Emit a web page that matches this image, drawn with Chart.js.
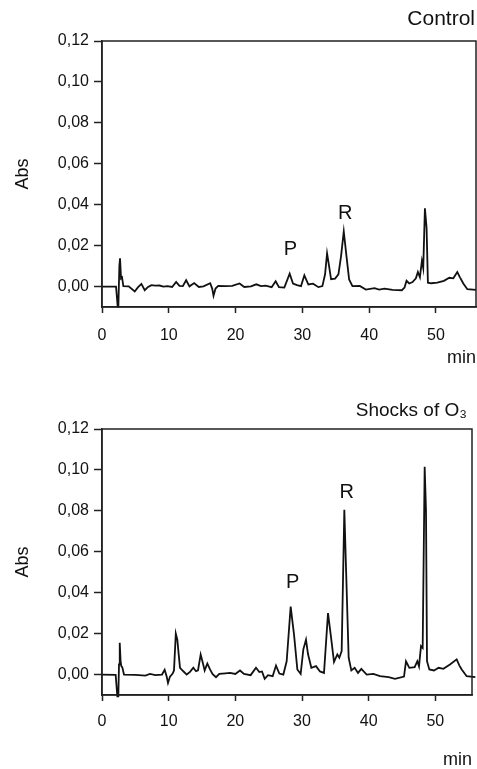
<!DOCTYPE html>
<html>
<head>
    <title>Chromatograms</title>
    <script src="https://cdn.jsdelivr.net/npm/chart.js"></script>
    <style>
        body { margin: 0; background: #fff; }
        canvas { position: absolute; left: 0; }
        #ctrlChart { top: 0; }
        #ozoneChart { top: 385px; }
    </style>
</head>
<body>
    <canvas id="ctrlChart" width="477" height="385"></canvas>
    <canvas id="ozoneChart" width="477" height="384"></canvas>

    <script>
    // axis ticks
    const xTicks = [0, 10, 20, 30, 40, 50];
    const yTicks = [0, 0.02, 0.04, 0.06, 0.08, 0.10, 0.12];

    // Control run (min, Abs)
    const ctrlTime = [0, 2.1, 2.35, 2.45, 2.6, 2.7, 2.85, 3.0, 3.2, 4.0, 4.9, 5.4, 5.9, 6.4, 6.9, 7.4, 8.0, 8.6, 9.2, 9.8,
        10.5, 11.1, 11.6, 12.1, 12.6, 13.1, 13.8, 14.5, 15.2, 16.2, 16.5, 16.7, 17.0, 17.4, 18.5, 19.5, 20.6, 21.3, 22.3, 23.1,
        23.8, 24.5, 25.4, 26.0, 26.5, 27.3, 28.1, 28.6, 29.2, 29.8, 30.3, 30.9, 31.6, 32.4, 33.0, 33.4, 33.7, 34.0, 34.3, 34.9,
        35.4, 35.8, 36.2, 36.6, 37.0, 37.5, 38.6, 39.5, 40.8, 41.5, 42.3, 43.5, 44.9, 45.3, 45.6, 46.0, 46.5, 47.0, 47.3, 47.6,
        47.9, 48.1, 48.35, 48.6, 48.8, 49.3, 50.2, 51.2, 52.0, 52.6, 53.2, 53.6, 54.1, 54.7, 56];
    const ctrlAbs = [0, 0, -0.0098, -0.0098, 0.010, 0.0138, 0.004, 0.0045, 0.0002, 0.0001, -0.0024, -0.0003, 0.0013, -0.0018, -0.0002, 0.0007, 0.0004, 0.0005, 0, 0.0002,
        -0.0002, 0.0023, 0.0003, 0.0002, 0.0031, 0.0001, 0.0017, -0.0002, 0.0001, 0.0016, -0.001, -0.0045, -0.001, 0.0003, 0.0002, 0.0003, 0.0015, -0.0002, 0.0001, 0.0011,
        0.0002, 0.0004, -0.0003, 0.0026, -0.0003, -0.0005, 0.0063, 0.0015, 0.0007, 0.0002, 0.0055, 0.001, 0.0014, -0.0003, 0.0002, 0.006, 0.0162, 0.010, 0.0036, 0.0039,
        0.006, 0.015, 0.0269, 0.015, 0.0035, 0.0002, 0.0003, -0.0015, -0.0008, -0.0015, -0.001, -0.0016, -0.0018, -0.0005, 0.0028, 0.0015, 0.0022, 0.004, 0.0071, 0.0045,
        0.0125, 0.009, 0.0382, 0.0286, 0.0019, 0.0016, 0.0019, 0.0028, 0.0043, 0.0040, 0.0071, 0.0045, 0.0015, -0.0013, -0.0016];
    const ctrlPeakNames = ['P', 'R'];
    const ctrlPeakX = [28.2, 36.4];
    const ctrlPeakY = [0.018, 0.0355];

    // Shocks of O3 run (min, Abs)
    const ozoneTime = [0, 2.05, 2.3, 2.45, 2.55, 2.66, 2.8, 2.9, 3.05, 3.3, 5.0, 6.5, 7.2, 8.0, 9.0, 9.4, 9.7, 9.9, 10.2, 10.6,
        10.8, 11.07, 11.3, 11.5, 11.7, 12.2, 12.7, 13.2, 13.7, 14.1, 14.4, 14.8, 15.1, 15.4, 15.8, 16.2, 16.6, 17.1, 17.6, 18.5,
        19.2, 20.0, 20.7, 21.3, 22.3, 23.1, 23.6, 24.0, 24.4, 24.9, 25.6, 26.1, 26.6, 27.2, 27.7, 28.3, 28.8, 29.3, 29.8, 30.2,
        30.6, 30.9, 31.4, 32.1, 32.7, 33.3, 33.9, 34.3, 34.8, 35.3, 35.6, 35.95, 36.35, 36.6, 37.0, 37.4, 37.9, 38.4, 38.9, 39.7,
        40.7, 41.7, 43.0, 43.95, 45.3, 45.6, 46.1, 46.9, 47.3, 47.55, 47.85, 48.1, 48.4, 48.6, 48.75, 49.1, 49.8, 50.5, 51.2, 52.2,
        53.2, 53.6, 53.96, 54.7, 56];
    const ozoneAbs = [0, -0.0002, -0.0106, -0.0106, 0.005, 0.0155, 0.006, 0.0041, 0.0035, 0, -0.0002, -0.0005, 0.0003, -0.0003, 0, 0.0023, -0.001, -0.0041, -0.001, 0.0005,
        0.002, 0.020, 0.017, 0.010, 0.0033, 0.0016, 0, 0.0013, 0.0033, 0.0016, 0.002, 0.0098, 0.006, 0.002, 0.0054, 0.0025, 0.0002, -0.0013, 0.0003, 0.0006,
        0.0008, 0.0003, 0.0020, 0.0003, -0.0003, 0.0033, 0.0012, 0.0015, -0.0021, -0.0003, -0.0008, 0.0044, 0.0005, 0, 0.0065, 0.0332, 0.0196, 0.0025, 0.0003, 0.0123,
        0.017, 0.010, 0.0033, 0.0041, 0.0015, 0.0008, 0.030, 0.0196, 0.0062, 0.0098, 0.0082, 0.0115, 0.0805, 0.0524, 0.0082, 0.002, 0.0033, 0.0008, 0.0028, 0,
        0.0003, -0.0008, -0.0013, -0.0021, -0.001, 0.0065, 0.0033, 0.0036, 0.0065, 0.004, 0.0139, 0.013, 0.1015, 0.080, 0.0065, 0.0025, 0.002, 0.0033, 0.0028, 0.0049,
        0.0074, 0.0045, 0.0025, -0.0008, -0.0013];
    const ozonePeakNames = ['P', 'R'];
    const ozonePeakX = [28.6, 36.7];
    const ozonePeakY = [0.045, 0.0892];

    const axisColor = '#222';
    const FONT = 'Liberation Sans, Arial, sans-serif';

    // box round the plot area, corner title and peak letters
    const framePlugin = {
        id: 'frame',
        afterDraw(chart, args, opts) {
            const c = chart.ctx, a = chart.chartArea;
            const xs = chart.scales.x, ys = chart.scales.y;
            c.save();
            c.strokeStyle = axisColor;
            c.lineWidth = 1.5;
            c.strokeRect(a.left, a.top, a.right - a.left, a.bottom - a.top);
            c.fillStyle = '#111';
            c.font = opts.font;
            c.textAlign = 'right';
            c.textBaseline = 'alphabetic';
            c.fillText(opts.title, a.right - opts.inset, opts.baseline);
            c.font = '20px ' + FONT;
            c.textAlign = 'center';
            c.textBaseline = 'middle';
            opts.peaks.forEach((p, i) => {
                c.fillText(p, xs.getPixelForValue(opts.peakX[i]), ys.getPixelForValue(opts.peakY[i]));
            });
            c.restore();
        }
    };

    function makeChart(id, times, values, cfg) {
        const ctx = document.getElementById(id).getContext('2d');
        return new Chart(ctx, {
            type: 'line',
            data: {
                datasets: [{
                    data: times.map((t, i) => ({ x: t, y: values[i] })),
                    borderColor: '#111',
                    borderWidth: 1.8,
                    pointRadius: 0,
                    tension: 0,
                    fill: false,
                    clip: 6
                }]
            },
            options: {
                responsive: false,
                animation: false,
                layout: { padding: { top: cfg.top, right: cfg.right, left: 0, bottom: 0 } },
                plugins: {
                    legend: { display: false },
                    tooltip: { enabled: false },
                    frame: {
                        title: cfg.title, font: cfg.titleFont, baseline: cfg.titleBaseline, inset: cfg.titleInset,
                        peaks: cfg.peaks, peakX: cfg.peakX, peakY: cfg.peakY
                    }
                },
                scales: {
                    x: {
                        type: 'linear',
                        min: 0,
                        max: cfg.xmax,
                        afterFit: s => { s.height = cfg.xHeight; },
                        afterBuildTicks: s => { s.ticks = xTicks.map(v => ({ value: v })); },
                        grid: { drawOnChartArea: false, tickLength: 6, color: axisColor, tickWidth: 1.5 },
                        border: { color: axisColor, width: 1.5 },
                        ticks: { color: '#111', font: { family: FONT, size: 16 }, padding: cfg.xTickPad, maxRotation: 0 },
                        title: {
                            display: true, text: 'min', align: 'end', color: '#111',
                            font: { family: FONT, size: 18 }, padding: { top: 0, bottom: cfg.minPad }
                        }
                    },
                    y: {
                        min: -0.01,
                        max: 0.12,
                        afterFit: s => { s.width = 102; },
                        afterBuildTicks: s => { s.ticks = yTicks.map(v => ({ value: v })); },
                        grid: { drawOnChartArea: false, tickLength: 8, color: axisColor, tickWidth: 1.5 },
                        border: { color: axisColor, width: 1.5 },
                        ticks: {
                            color: '#111', font: { family: FONT, size: 16 }, padding: 5,
                            callback: v => v.toFixed(2).replace('.', ',')
                        },
                        title: {
                            display: true, text: 'Abs', color: '#111',
                            font: { family: FONT, size: 18 }, padding: { top: 12, bottom: 0 }
                        }
                    }
                }
            },
            plugins: [framePlugin]
        });
    }

    makeChart('ctrlChart', ctrlTime, ctrlAbs, {
        top: 41, right: 1, xmax: 56, xHeight: 78, minPad: 16, xTickPad: 13,
        title: 'Control', titleFont: '21px ' + FONT, titleBaseline: 25, titleInset: 1,
        peaks: ctrlPeakNames, peakX: ctrlPeakX, peakY: ctrlPeakY
    });
    makeChart('ozoneChart', ozoneTime, ozoneAbs, {
        top: 44, right: 5, xmax: 55.5, xHeight: 74, minPad: -2, xTickPad: 11,
        title: 'Shocks of O\u2083', titleFont: '19px ' + FONT, titleBaseline: 31, titleInset: 5,
        peaks: ozonePeakNames, peakX: ozonePeakX, peakY: ozonePeakY
    });
    </script>
</body>
</html>
